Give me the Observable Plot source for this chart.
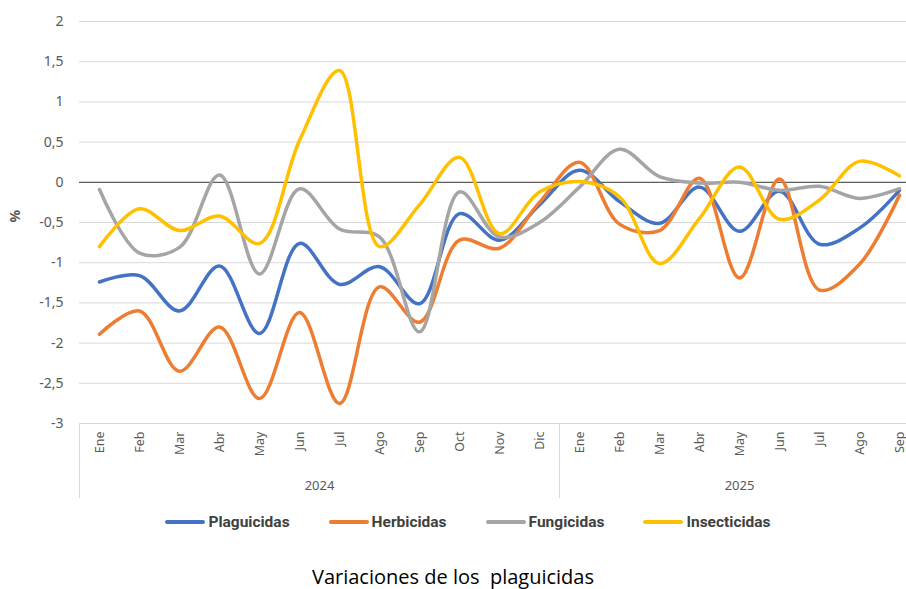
<!DOCTYPE html>
<html>
<head>
<meta charset="utf-8">
<script src="https://cdn.jsdelivr.net/npm/d3@7"></script>
<script src="https://cdn.jsdelivr.net/npm/@observablehq/plot@0.6"></script>
<style>
  body { margin: 0; background: #fff; overflow: hidden; }
  #chart { width: 906px; }
  .legend { display: flex; justify-content: center; gap: 39px; margin-top: 7px; height: 20px; align-items: center; padding-left: 30px; width: 876px;
    font-family: "Liberation Sans Narrow", "Roboto", sans-serif; font-weight: bold; font-size: 15.5px; color: #404040; }
  .legend .item { display: flex; align-items: center; }
  .legend .sw { width: 40px; height: 4px; border-radius: 2px; margin-right: 3px; }
  .caption { text-align: center; font-family: "Open Sans", "Lato", sans-serif; font-size: 20px; line-height: 24px; color: #000; margin-top: 33px; }
</style>
</head>
<body>
<div id="chart"></div>
<script>
const months = ["Ene","Feb","Mar","Abr","May","Jun","Jul","Ago","Sep","Oct","Nov","Dic","Ene","Feb","Mar","Abr","May","Jun","Jul","Ago","Sep"];
const years = ["2024","2024","2024","2024","2024","2024","2024","2024","2024","2024","2024","2024","2025","2025","2025","2025","2025","2025","2025","2025","2025"];
const seriesNames = ["Plaguicidas","Herbicidas","Fungicidas","Insecticidas"];
const seriesColors = ["#4472C4","#ED7D31","#A5A5A5","#FFC000"];
const plaguicidas  = [-1.24,-1.16,-1.60,-1.04,-1.88,-0.76,-1.27,-1.05,-1.51,-0.39,-0.72,-0.28,0.15,-0.24,-0.51,-0.06,-0.61,-0.11,-0.77,-0.57,-0.10];
const herbicidas   = [-1.89,-1.60,-2.35,-1.80,-2.69,-1.62,-2.75,-1.30,-1.74,-0.72,-0.82,-0.25,0.25,-0.52,-0.60,0.05,-1.19,0.04,-1.34,-1.02,-0.16];
const fungicidas   = [-0.09,-0.88,-0.81,0.09,-1.14,-0.08,-0.58,-0.68,-1.86,-0.12,-0.68,-0.50,-0.06,0.41,0.07,-0.01,0.00,-0.10,-0.05,-0.20,-0.08];
const insecticidas = [-0.80,-0.33,-0.60,-0.42,-0.76,0.52,1.39,-0.80,-0.28,0.31,-0.64,-0.12,0.01,-0.18,-1.01,-0.45,0.19,-0.46,-0.22,0.26,0.08];
const yTicks = [-3,-2.5,-2,-1.5,-1,-0.5,0,0.5,1,1.5,2];

const allSeries = [plaguicidas, herbicidas, fungicidas, insecticidas];
const data = [];
allSeries.forEach((vals, s) => vals.forEach((v, i) => data.push({i, value: v, series: seriesNames[s]})));

// year groups: boundaries and centers computed from the year list
const yearNames = [...new Set(years)];
const groupStart = yearNames.map(y => years.indexOf(y) - 0.5);
const groupEnd = yearNames.map(y => years.lastIndexOf(y) + 0.5);
const groupCenter = yearNames.map((y, k) => (groupStart[k] + groupEnd[k]) / 2);

const fmt = d => String(d).replace(".", ",");
const tickFont = "'Noto Sans', 'Open Sans', sans-serif";

const chart = Plot.plot({
  width: 906,
  height: 505,
  marginLeft: 79,
  marginRight: 0,
  marginTop: 21,
  marginBottom: 82,
  style: {fontFamily: tickFont, fontSize: "13px", color: "#595959", background: "#fff", overflow: "visible"},
  x: {type: "linear", domain: [-0.5, months.length - 0.5], range: [79, 919]},
  y: {domain: [-3, 2]},
  color: {domain: seriesNames, range: seriesColors},
  marks: [
    Plot.gridY({ticks: yTicks, stroke: "#d9d9d9", strokeOpacity: 1, strokeWidth: 1}),
    Plot.ruleY([0], {stroke: "#404040", strokeWidth: 1}),
    Plot.axisY({ticks: yTicks, tickFormat: fmt, tickSize: 0, tickPadding: 16, label: null, fontSize: 14}),
    Plot.text(["%"], {frameAnchor: "left", dx: -64, rotate: -90, fontWeight: "bold", fontSize: 14, fill: "#595959"}),
    Plot.axisX({ticks: d3.range(months.length), tickFormat: i => months[i], tickRotate: -90, tickSize: 0, tickPadding: 8, label: null, fontSize: 12.5}),
    Plot.axisX({ticks: groupStart, tickFormat: () => "", tickSize: 75, stroke: "#d9d9d9", strokeOpacity: 1, label: null}),
    Plot.axisX({ticks: groupCenter, tickFormat: (d) => yearNames[groupCenter.indexOf(d)], tickSize: 0, tickPadding: 57, label: null}),
    Plot.line(data, {x: "i", y: "value", z: "series", stroke: "series", curve: "catmull-rom", strokeWidth: 3.5, strokeLinecap: "round", strokeLinejoin: "round"})
  ]
});
document.getElementById("chart").appendChild(chart);

const legend = document.createElement("div");
legend.className = "legend";
seriesNames.forEach((n, k) => {
  const it = document.createElement("div");
  it.className = "item";
  const sw = document.createElement("span");
  sw.className = "sw";
  sw.style.background = seriesColors[k];
  const t = document.createElement("span");
  t.textContent = n;
  it.appendChild(sw); it.appendChild(t);
  legend.appendChild(it);
});
document.body.appendChild(legend);

const cap = document.createElement("div");
cap.className = "caption";
cap.textContent = "Variaciones de los\u00a0 plaguicidas";
document.body.appendChild(cap);
</script>
</body>
</html>
